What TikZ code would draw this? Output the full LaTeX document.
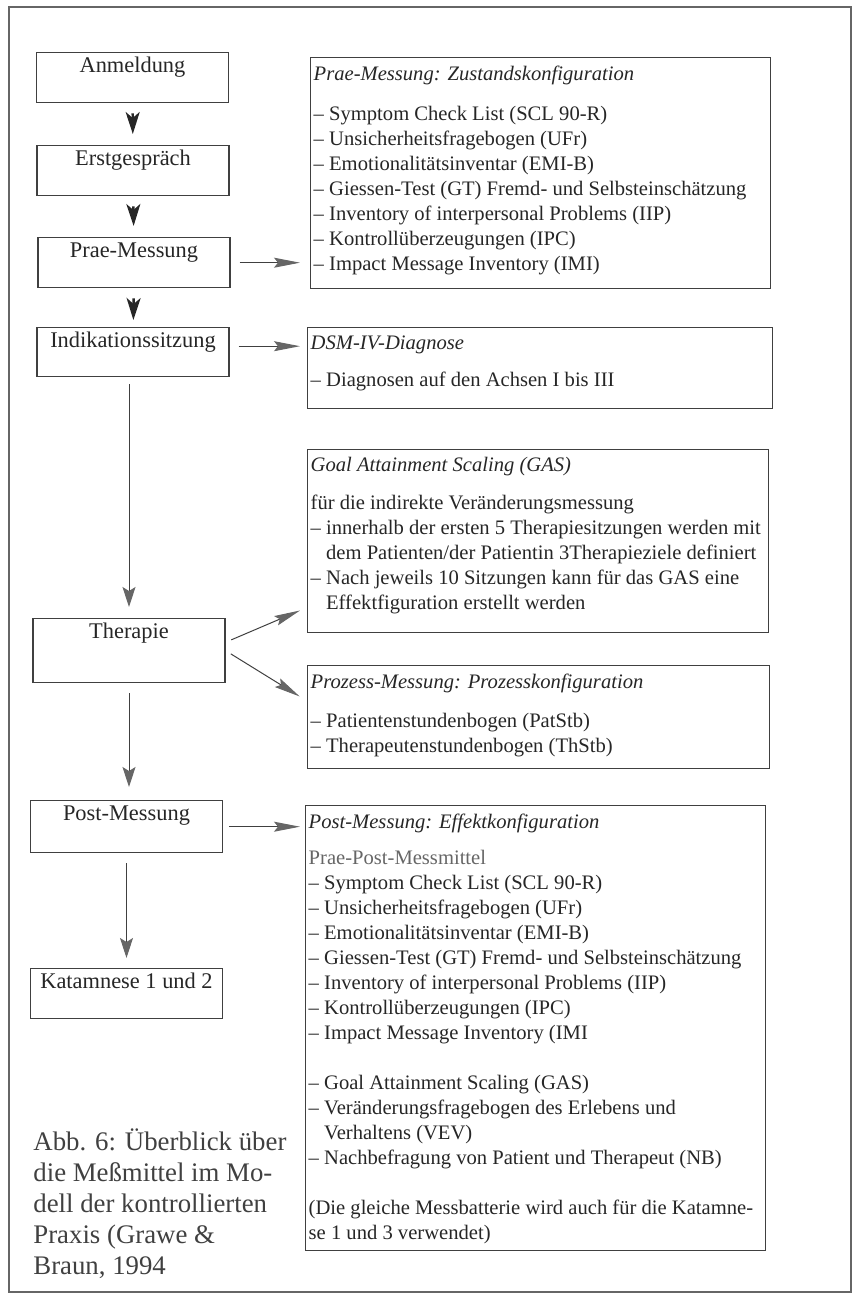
\documentclass[tikz,border=0pt]{standalone}
\usepackage{fontspec}
\setmainfont{Liberation Serif}
\usetikzlibrary{arrows.meta}

% text block of fixed size, set from the top
\newcommand{\boxtext}[3]{\begin{minipage}[t][#1][t]{#2}\vspace*{3pt}#3\end{minipage}}
\newcommand{\ind}{\hphantom{--\ }}

\begin{document}
\begin{tikzpicture}[x=0.5pt, y=-0.5pt,
    stepbox/.style={draw=black!75, line width=0.7pt, anchor=north, minimum width=96pt,
      inner ysep=2.5pt, text height=7.6pt, text depth=12.4pt,
      font=\fontsize{11.2}{13}\selectfont, text=black!85},
    infobox/.style={draw=black!75, line width=0.7pt, anchor=north west,
      inner xsep=1.5pt, inner ysep=1pt,
      font=\fontsize{10.3}{12.5}\selectfont, text=black!85},
    steparrow/.style={draw=black!85, line width=1.2pt,
      -{Stealth[length=11pt, width=7pt, inset=3pt]}},
    flowarrow/.style={draw=black!75, line width=0.5pt,
      -{Stealth[length=10pt, width=6.5pt, inset=2pt, color=black!60]}},
    sidearrow/.style={draw=black!75, line width=0.5pt,
      -{Stealth[length=13pt, width=5pt, inset=2pt, color=black!60]}}]
  \useasboundingbox (0,0) rectangle (855,1295);
  \draw[black!60, line width=0.6pt] (9,7) rectangle (851,1292);

  % steps
  \node[stepbox] (anm) at (132.5,52) {Anmeldung};
  \node[stepbox] (erst) at (133,145) {Erstgespräch};
  \node[stepbox] (praem) at (134,237) {Prae-Messung};
  \node[stepbox, text depth=11.9pt] (indik) at (133,327) {Indikationssitzung};
  \node[stepbox, text depth=19.4pt] (ther) at (129,618) {Therapie};
  \node[stepbox, text depth=13.4pt] (postm) at (126.5,800) {Post-Messung};
  \node[stepbox] (katam) at (126.5,968) {Katamnese 1 und 2};

  % measures
  \node[infobox] (praebox) at (310,57) {\boxtext{113.5pt}{227pt}{%
    \textit{Prae-Messung: Zustandskonfiguration}\\[7.5pt]
    -- Symptom Check List (SCL 90-R)\\
    -- Unsicherheitsfragebogen (UFr)\\
    -- Emotionalitätsinventar (EMI-B)\\
    -- Giessen-Test (GT) Fremd- und Selbsteinschätzung\\
    -- Inventory of interpersonal Problems (IIP)\\
    -- Kontrollüberzeugungen (IPC)\\
    -- Impact Message Inventory (IMI)}};
  \node[infobox] (dsmbox) at (307,327) {\boxtext{38.5pt}{229.5pt}{%
    \textit{DSM-IV-Diagnose}\\[6pt]
    -- Diagnosen auf den Achsen I bis III}};
  \node[infobox] (gasbox) at (307,449) {\boxtext{89.5pt}{227.5pt}{%
    \textit{Goal Attainment Scaling (GAS)}\\[6.5pt]
    für die indirekte Veränderungsmessung\\
    -- innerhalb der ersten 5 Therapiesitzungen werden mit\\
    \ind dem Patienten/der Patientin 3Therapieziele definiert\\
    -- Nach jeweils 10 Sitzungen kann für das GAS eine\\
    \ind Effektfiguration erstellt werden}};
  \node[infobox] (prozbox) at (307,665) {\boxtext{49.5pt}{228pt}{%
    \textit{Prozess-Messung: Prozesskonfiguration}\\[7pt]
    -- Patientenstundenbogen (PatStb)\\
    -- Therapeutenstundenbogen (ThStb)}};
  \node[infobox] (postbox) at (305,805) {\boxtext{220.5pt}{227pt}{%
    \textit{Post-Messung: Effektkonfiguration}\\[5.5pt]
    {\color{black!60}Prae-Post-Messmittel}\\
    -- Symptom Check List (SCL 90-R)\\
    -- Unsicherheitsfragebogen (UFr)\\
    -- Emotionalitätsinventar (EMI-B)\\
    -- Giessen-Test (GT) Fremd- und Selbsteinschätzung\\
    -- Inventory of interpersonal Problems (IIP)\\
    -- Kontrollüberzeugungen (IPC)\\
    -- Impact Message Inventory (IMI\\[12.5pt]
    -- Goal Attainment Scaling (GAS)\\
    -- Veränderungsfragebogen des Erlebens und\\
    \ind Verhaltens (VEV)\\
    -- Nachbefragung von Patient und Therapeut (NB)\\[12.5pt]
    (Die gleiche Messbatterie wird auch für die Katamne-\\
    se 1 und 3 verwendet)}};

  \node[anchor=base west, align=left, inner sep=0pt, text=black!75,
    font=\fontsize{13.4}{15.5}\selectfont] (caption) at (33,1274)
    {Abb. 6: Überblick über\\die Meßmittel im Mo-\\dell der kontrollierten\\Praxis (Grawe \&\\Braun, 1994};

  % flow
  \draw[steparrow, shorten <=5pt, shorten >=5.5pt] (anm) -- (erst);
  \draw[steparrow, shorten <=5pt, shorten >=5.5pt] (erst) -- (praem);
  \draw[steparrow, shorten <=5pt, shorten >=3.5pt] (praem) -- (indik);
  \draw[flowarrow, shorten <=3.5pt, shorten >=5.5pt] (indik.south -| ther.north) -- (ther.north);
  \draw[flowarrow, shorten <=5pt, shorten >=6.5pt] (ther.south) -- (ther.south |- postm.north);
  \draw[flowarrow, shorten <=5pt, shorten >=5pt] (postm) -- (katam);

  \draw[sidearrow, shorten <=4.5pt, shorten >=5pt] (praem.east) -- (praem.east -| praebox.west);
  \draw[sidearrow, shorten <=4.5pt, shorten >=3.5pt] ([yshift=3pt]indik.east) -- ([yshift=3pt]indik.east -| dsmbox.west);
  \draw[sidearrow, shorten <=3pt, shorten >=3.8pt] (ther.5) -- (gasbox.196);
  \draw[sidearrow, shorten <=3pt, shorten >=4.3pt] (ther.east) -- (prozbox.176);
  \draw[sidearrow, shorten <=3pt, shorten >=2.5pt] (postm.east) -- (postm.east -| postbox.west);
\end{tikzpicture}
\end{document}
